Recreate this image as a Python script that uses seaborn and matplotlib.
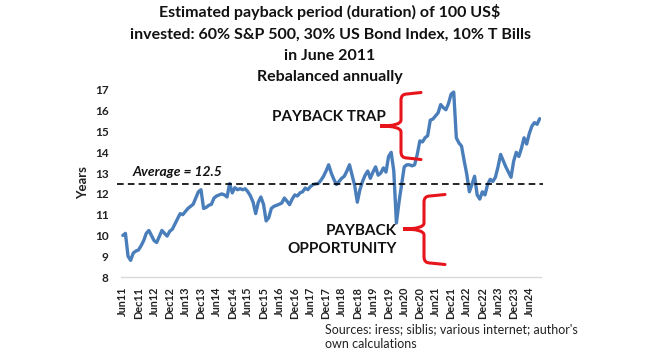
import matplotlib
matplotlib.use("Agg")
import matplotlib.pyplot as plt
from matplotlib.path import Path
from matplotlib.patches import PathPatch
import seaborn as sns
import pandas as pd
import numpy as np

# ---------------- data ----------------
payback_years = [
    10.0, 10.1, 9.0, 8.8, 9.15, 9.25, 9.3, 9.5, 9.75, 10.1,
    10.24, 10.0, 9.75, 9.66, 9.95, 10.24, 10.1, 9.97, 10.2, 10.3,
    10.55, 10.8, 11.05, 11.0, 11.15, 11.3, 11.4, 11.5, 11.8, 12.1,
    12.2, 11.3, 11.35, 11.45, 11.5, 11.8, 11.9, 11.95, 12.0, 11.95,
    11.85, 12.5, 12.05, 12.3, 12.2, 12.25, 12.2, 12.25, 12.1, 11.9,
    11.6, 11.05, 11.6, 11.85, 11.5, 10.7, 10.85, 11.3, 11.4, 11.45,
    11.5, 11.56, 11.8, 11.65, 11.48, 11.75, 11.95, 11.9, 12.05, 12.1,
    12.28, 12.2, 12.35, 12.45, 12.48, 12.5, 12.65, 12.84, 13.1, 13.4,
    13.0, 12.7, 12.45, 12.6, 12.75, 12.85, 13.1, 13.4, 12.9, 12.4,
    11.6, 12.2, 12.6, 12.9, 13.1, 12.75, 13.05, 13.3, 12.9, 13.0,
    13.25, 13.05, 13.8, 14.0, 13.1, 10.6, 11.6, 12.45, 13.3, 13.4,
    13.4, 13.35, 13.4, 13.9, 14.55, 14.5, 14.7, 14.8, 15.55, 15.6,
    15.75, 15.9, 16.3, 16.15, 16.05, 16.35, 16.8, 16.9, 14.7, 14.45,
    14.3, 13.6, 12.95, 12.1, 12.45, 12.85, 11.95, 11.75, 12.1, 11.95,
    12.45, 12.7, 12.6, 12.8, 13.3, 13.9, 13.6, 13.3, 13.05, 12.8,
    13.57, 14.0, 13.8, 14.2, 14.7, 14.4, 14.9, 15.26, 15.43, 15.35,
    15.62,
]
months = pd.date_range("2011-06-01", periods=len(payback_years), freq="MS")
tick_labels = ["Jun11", "Dec11", "Jun12", "Dec12", "Jun13", "Dec13", "Jun14",
               "Dec14", "Jun15", "Dec15", "Jun16", "Dec16", "Jun17", "Dec17",
               "Jun18", "Dec18", "Jun19", "Dec19", "Jun20", "Dec20", "Jun21",
               "Dec21", "Jun22", "Dec22", "Jun23", "Dec23", "Jun24"]
average_years = 12.5
y_ticks = [8, 9, 10, 11, 12, 13, 14, 15, 16, 17]

title = ("Estimated payback period (duration) of 100 US$\n"
         "invested: 60% S&P 500, 30% US Bond Index, 10% T Bills\n"
         "in June 2011\nRebalanced annually")
avg_label = "Average = 12.5"
trap_label = "PAYBACK TRAP"
opp_label = "PAYBACK\nOPPORTUNITY"
source_label = "Sources: iress; siblis; various internet; author's\nown calculations"

# ---------------- plotting ----------------
sns.set_theme(style="white")
plt.rcParams["font.family"] = ["Lato", "DejaVu Sans"]

W, H = 660, 361
fig = plt.figure(figsize=(W / 100, H / 100), dpi=100)

def fx(x):
    return x / W

def fy(y):
    return 1 - y / H

left_px, right_px, top_px, bot_px = 121, 541, 90, 277
ax = fig.add_axes([fx(left_px), fy(bot_px), fx(right_px) - fx(left_px),
                   fy(top_px) - fy(bot_px)])

df = pd.DataFrame({"idx": np.arange(len(payback_years)), "month": months,
                   "years": payback_years})
sns.lineplot(data=df, x="idx", y="years", ax=ax, color="#4A7EBB",
             linewidth=2.4, solid_joinstyle="round", solid_capstyle="round")

ax.axhline(average_years, color="black", linewidth=1.2, linestyle=(0, (4, 2.5)),
           xmin=-0.01, xmax=1.005, clip_on=False)

ax.set_xlim(-0.7, len(payback_years) - 0.5)
ax.set_ylim(8, 17)
ax.set_yticks(y_ticks)
ax.set_yticklabels([str(t) for t in y_ticks], fontsize=8.5, fontweight="bold")
tick_pos = [i for i, d in enumerate(months) if d.month in (6, 12)]
ax.set_xticks(tick_pos[:len(tick_labels)])
ax.set_xticklabels(tick_labels, rotation=90, fontsize=7.8, fontweight="bold")
ax.tick_params(axis="y", length=0, pad=9, colors="#222222")
ax.tick_params(axis="x", length=0, pad=7, colors="#222222")
ax.set_xlabel("")
ax.set_ylabel("")
for s in ["top", "right", "left"]:
    ax.spines[s].set_visible(False)
ax.spines["bottom"].set_color("#D9D9D9")
ax.spines["bottom"].set_linewidth(1.0)
ax.grid(False)

# text
fig.text(fx(330), fy(4), title, ha="center", va="top", fontsize=11.5,
         fontweight="bold", linespacing=1.68, color="#111111")
fig.text(fx(83), fy(183), "Years", rotation=90, ha="center", va="center",
         fontsize=9.5, fontweight="bold", color="#222222")
fig.text(fx(133), fy(172), avg_label, ha="left", va="center", fontsize=10,
         fontweight="bold", fontstyle="italic", color="#111111")
fig.text(fx(329), fy(117), trap_label, ha="center", va="center", fontsize=11,
         fontweight="bold", color="#111111")
fig.text(fx(397), fy(240), opp_label, ha="right", va="center", fontsize=11,
         fontweight="bold", color="#111111", multialignment="right",
         linespacing=1.35)
fig.text(fx(325), fy(323), source_label, ha="left", va="top", fontsize=9,
         color="#222222", linespacing=1.35)

# braces
def brace(xc, yc, xv, xa, yt, yb, r=6):
    pts = [
        (xa, yt - 1.5), (xv + r, yt), (xv, yt), (xv, yt + r),
        (xv, yc - r), (xv, yc), (xc, yc),
        (xv, yc), (xv, yc + r),
        (xv, yb - r), (xv, yb), (xv + r, yb), (xa, yb + 1.5),
    ]
    codes = [Path.MOVETO, Path.LINETO, Path.CURVE3, Path.CURVE3,
             Path.LINETO, Path.CURVE3, Path.CURVE3,
             Path.CURVE3, Path.CURVE3,
             Path.LINETO, Path.CURVE3, Path.CURVE3, Path.LINETO]
    verts = [(fx(x), fy(y)) for x, y in pts]
    patch = PathPatch(Path(verts, codes), facecolor="none", edgecolor="#E8141B",
                      linewidth=2.2, transform=fig.transFigure, capstyle="round")
    fig.add_artist(patch)

brace(380, 126, 401, 421, 94, 158)
brace(403, 229, 424, 445, 196, 263)

fig.savefig("out.png", dpi=100)
